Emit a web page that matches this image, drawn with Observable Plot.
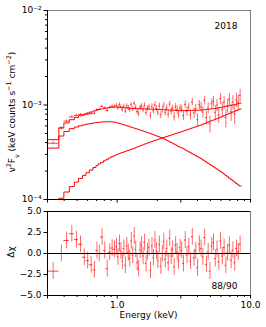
<!DOCTYPE html>
<html><head><meta charset="utf-8">
<script src="https://cdn.jsdelivr.net/npm/d3@7"></script>
<script src="https://cdn.jsdelivr.net/npm/@observablehq/plot@0.6"></script>
<style>
body{margin:0;background:#fff;}
#chart{width:266px;}
svg{display:block;}
</style></head><body><div id="chart"></div>
<script>
// Energy bin edges (keV)
const binEdges = [0.30,0.365,0.398,0.437,0.477,0.512,0.55,0.583,0.618,0.658,0.692,0.718,0.75,0.79,0.823,0.86,0.898,0.935,0.975,
  1.0,1.026,1.053,1.08,1.108,1.137,1.166,1.196,1.227,1.259,1.292,1.326,1.36,1.395,1.431,1.468,1.506,1.545,1.585,1.626,1.668,1.711,1.755,1.8,1.847,1.895,1.944,1.994,2.046,2.099,2.153,2.209,2.266,2.325,2.385,2.447,2.51,2.575,2.642,2.71,2.78,2.852,2.926,3.0,
  3.093,3.189,3.288,3.39,3.495,3.603,3.715,3.83,3.949,4.071,4.198,4.328,4.462,4.6,4.743,4.89,5.042,5.198,5.359,5.525,5.697,5.873,6.055,6.243,6.437,6.636,6.842,7.054,7.273,7.498,7.731,7.97,8.22,8.5];
// model components, units of 1e-4 keV counts s^-1 cm^-2
const peakModel = [3.5,4.7,5.25,5.62,5.85,6.02,6.17,6.28,6.38,6.47,6.53,6.57,6.61,6.64,6.65,6.64,6.62,6.58,
  6.53,6.46,6.39,6.32,6.25,6.18,6.11,6.04,5.97,5.90,5.83,5.76,5.70,5.63,5.57,5.50,5.44,5.37,5.31,5.24,5.18,5.11,5.05,4.99,4.92,4.86,4.79,4.73,4.66,4.60,4.53,4.47,4.39,4.32,4.24,4.17,4.09,4.01,3.94,3.86,3.79,3.71,3.64,3.56,
  3.53,3.45,3.36,3.28,3.20,3.13,3.05,2.98,2.91,2.84,2.77,2.71,2.63,2.56,2.49,2.42,2.35,2.28,2.22,2.16,2.10,2.04,1.98,1.92,1.86,1.80,1.74,1.68,1.63,1.58,1.53,1.48,1.43,1.39];
const powerModel = [0.8,1.03,1.2,1.37,1.53,1.67,1.8,1.92,2.05,2.18,2.28,2.38,2.48,2.57,2.66,2.75,2.83,2.91,
  2.98,3.02,3.06,3.10,3.14,3.18,3.23,3.27,3.31,3.35,3.39,3.43,3.48,3.53,3.59,3.64,3.69,3.74,3.79,3.85,3.90,3.95,4.00,4.05,4.11,4.16,4.21,4.26,4.31,4.37,4.42,4.47,4.53,4.59,4.64,4.70,4.76,4.81,4.87,4.93,4.98,5.04,5.10,5.15,
  5.22,5.30,5.38,5.46,5.54,5.62,5.71,5.79,5.88,5.97,6.06,6.15,6.26,6.36,6.47,6.59,6.70,6.82,6.93,7.05,7.18,7.30,7.43,7.56,7.70,7.84,7.98,8.12,8.27,8.42,8.57,8.73,8.89,9.05];
// observed data, units of 1e-4
const flux = [3.94,5.7,6.75,7.48,7.75,7.94,7.86,7.99,8.09,8.14,8.91,8.95,9.68,9.32,8.74,9.44,9.67,9.66,
  9.89,9.29,10.04,9.57,8.93,9.67,8.61,9.79,9.33,8.92,10.05,9.08,10.38,9.45,8.52,8.07,9.37,9.72,8.91,9.91,8.32,9.19,9.51,7.72,9.63,8.68,10.09,9.20,8.41,9.75,7.88,8.94,9.94,8.39,9.33,8.04,10.22,8.59,9.20,7.54,9.56,8.91,8.02,9.28,
  9.08,7.72,10.15,8.56,9.49,7.88,10.74,8.26,9.10,6.98,10.04,9.54,8.42,11.19,7.36,9.26,6.33,10.30,10.92,8.37,10.00,7.86,11.68,9.01,10.68,7.35,9.89,11.52,8.48,10.73,8.04,11.36,10.71,12.67];
const fluxErr = [0.17,0.2,0.19,0.21,0.22,0.23,0.24,0.25,0.25,0.26,0.28,0.29,0.30,0.30,0.32,0.33,0.33,0.34,
  0.48,0.48,0.49,0.50,0.51,0.51,0.52,0.53,0.54,0.55,0.55,0.56,0.57,0.58,0.59,0.59,0.60,0.61,0.62,0.63,0.64,0.64,0.65,0.66,0.67,0.68,0.68,0.69,0.70,0.71,0.72,0.72,0.73,0.74,0.75,0.75,0.76,0.77,0.78,0.78,0.79,0.80,0.80,0.81,
  0.83,0.86,0.88,0.91,0.94,0.96,0.99,1.02,1.05,1.07,1.10,1.13,1.16,1.20,1.23,1.26,1.29,1.33,1.36,1.40,1.44,1.48,1.52,1.55,1.60,1.64,1.68,1.72,1.77,1.82,1.87,1.92,1.97,2.03];
const delChi = [-2.1,0.0,1.55,2.35,1.65,1.1,-0.45,-0.85,-1.35,-1.95,0.35,0.0,1.95,0.35,-1.8,0.15,0.65,0.5,
  0.8,-0.4,1.2,0.3,-0.9,0.6,-1.4,0.9,0.1,-0.6,1.5,-0.2,2.1,0.5,-1.1,-1.8,0.4,1.0,-0.3,1.3,-1.2,0.2,0.7,-2.0,0.9,-0.5,1.6,0.3,-0.8,1.1,-1.5,0.0,1.4,-0.7,0.6,-1.1,1.8,-0.3,0.5,-1.6,1.0,0.2,-0.9,0.7,
  0.4,-1.2,1.6,-0.2,0.8,-0.9,2.0,-0.5,0.3,-1.7,1.1,0.6,-0.4,1.9,-1.3,0.2,-2.1,0.9,1.3,-0.6,0.5,-1.0,1.5,-0.3,0.7,-1.4,0.1,1.0,-0.8,0.4,-1.1,0.6,0.2,1.1];
const UNIT = 1e-4;

const xTicksMajor = [0.3, 1, 3, 10];
const xTickLabels = ["0.3", "1.0", "3.0", "10.0"];
const xTicksMinor = [0.4,0.5,0.6,0.7,0.8,0.9,2,4,5,6,7,8,9];
const yTicksMajor = [1e-4, 1e-3, 1e-2];
const yTickLabels = ["10\u207B\u2074", "10\u207B\u00B3", "10\u207B\u00B2"];
const yTicksMinor = [2e-4,3e-4,4e-4,5e-4,6e-4,7e-4,8e-4,9e-4,2e-3,3e-3,4e-3,5e-3,6e-3,7e-3,8e-3,9e-3];
const residTicks = [-5, -2.5, 0, 2.5, 5];
const residTickLabels = ["\u22125.0", "\u22122.5", "0.0", "2.5", "5.0"];
const yearLabel = "2018";
const chiLabel = "88/90";

const bins = flux.map((f, i) => {
  const lo = binEdges[i], hi = binEdges[i + 1];
  return {lo, hi, mid: Math.sqrt(lo * hi), flux: f * UNIT, err: fluxErr[i] * UNIT, r: delChi[i],
    peak: peakModel[i] * UNIT, power: powerModel[i] * UNIT, total: (peakModel[i] + powerModel[i]) * UNIT};
});
const steps = bins.flatMap(b => [{...b, x: b.lo}, {...b, x: b.hi}]);

const RED = "#ff0000";
const font = {fontFamily: "'DejaVu Sans', sans-serif", fontSize: "9px", color: "black", background: "white"};

const topPlot = Plot.plot({
  width: 266, height: 205, marginLeft: 47, marginRight: 16, marginTop: 10, marginBottom: 6,
  style: font,
  x: {type: "log", domain: [0.3, 10]},
  y: {type: "log", domain: [1e-4, 1e-2]},
  marks: [
    Plot.ruleY(bins, {y: "flux", x1: "lo", x2: "hi", stroke: RED, strokeWidth: 1, strokeOpacity: 0.75, clip: true}),
    Plot.ruleX(bins, {x: "mid", y1: d => d.flux - d.err, y2: d => d.flux + d.err, stroke: RED, strokeWidth: 1, strokeOpacity: 0.6, clip: true}),
    Plot.line(steps, {x: "x", y: "total", stroke: RED, strokeWidth: 1, clip: true}),
    Plot.line(steps, {x: "x", y: "peak", stroke: RED, strokeWidth: 1, clip: true}),
    Plot.line(steps, {x: "x", y: "power", stroke: RED, strokeWidth: 1, clip: true}),
    Plot.ruleX([10], {stroke: "#808080", strokeWidth: 1}),
    Plot.ruleY([1e-2], {stroke: "#808080", strokeWidth: 1}),
    Plot.ruleX([0.3], {stroke: "black", strokeWidth: 1}),
    Plot.ruleY([1e-4], {stroke: "black", strokeWidth: 1}),
    Plot.axisY(yTicksMajor, {tickSize: 3.5, tickPadding: 2.5, label: null, tickFormat: d => yTickLabels[yTicksMajor.indexOf(d)]}),
    Plot.axisY(yTicksMinor, {tickSize: 2, label: null, tickFormat: () => ""}),
    Plot.axisX(xTicksMajor, {tickSize: 3.5, label: null, tickFormat: () => ""}),
    Plot.axisX(xTicksMinor, {tickSize: 2, label: null, tickFormat: () => ""}),
    Plot.text([yearLabel], {frameAnchor: "top-right", dx: -13, dy: 12, fontSize: 9, fill: "black"})
  ]
});

const bottomPlot = Plot.plot({
  width: 266, height: 122, marginLeft: 47, marginRight: 16, marginTop: 6, marginBottom: 32,
  style: font,
  x: {type: "log", domain: [0.3, 10]},
  y: {domain: [-5, 5]},
  marks: [
    Plot.ruleY(bins, {y: "r", x1: "lo", x2: "hi", stroke: RED, strokeWidth: 1, strokeOpacity: 0.75}),
    Plot.ruleX(bins, {x: "mid", y1: d => d.r - 1, y2: d => d.r + 1, stroke: RED, strokeWidth: 1, strokeOpacity: 0.6}),
    Plot.ruleY([0], {stroke: "black", strokeWidth: 1}),
    Plot.ruleX([10], {stroke: "#808080", strokeWidth: 1}),
    Plot.ruleY([5], {stroke: "black", strokeWidth: 1}),
    Plot.ruleX([0.3], {stroke: "black", strokeWidth: 1}),
    Plot.ruleY([-5], {stroke: "black", strokeWidth: 1}),
    Plot.axisY(residTicks, {tickSize: 3.5, tickPadding: 2.5, label: null, tickFormat: d => residTickLabels[residTicks.indexOf(d)]}),
    Plot.axisX(xTicksMajor, {tickSize: 3.5, tickPadding: 2.5, label: null, tickFormat: d => xTickLabels[xTicksMajor.indexOf(d)]}),
    Plot.axisX(xTicksMinor, {tickSize: 2, label: null, tickFormat: () => ""}),
    Plot.text([chiLabel], {frameAnchor: "bottom-right", dx: -13, dy: -7, fontSize: 9, fill: "black"})
  ]
});

const chart = document.getElementById("chart");
chart.appendChild(topPlot);
chart.appendChild(bottomPlot);

// y label of the top panel
const lab = d3.select(topPlot).append("text")
  .attr("transform", "translate(15,112) rotate(-90)")
  .attr("text-anchor", "middle").attr("font-size", 9).attr("fill", "black");
const parts = [["\u03BD", null], ["2", "super"], ["F", null], ["\u03BD", "sub"], [" (keV counts s", null], ["\u22121", "super"], [" cm", null], ["\u22122", "super"], [")", null]];
for (const [t, shift] of parts) {
  const ts = lab.append("tspan").text(t);
  if (shift) ts.attr("baseline-shift", shift).attr("font-size", 6.5);
}
d3.select(bottomPlot).append("text")
  .attr("transform", "translate(14,47) rotate(-90)")
  .attr("text-anchor", "middle").attr("font-size", 9).attr("fill", "black")
  .text("\u0394\u03C7");
d3.select(bottomPlot).append("text")
  .attr("x", 148.5).attr("y", 113)
  .attr("text-anchor", "middle").attr("font-size", 9).attr("fill", "black")
  .text("Energy (keV)");
</script></body></html>
